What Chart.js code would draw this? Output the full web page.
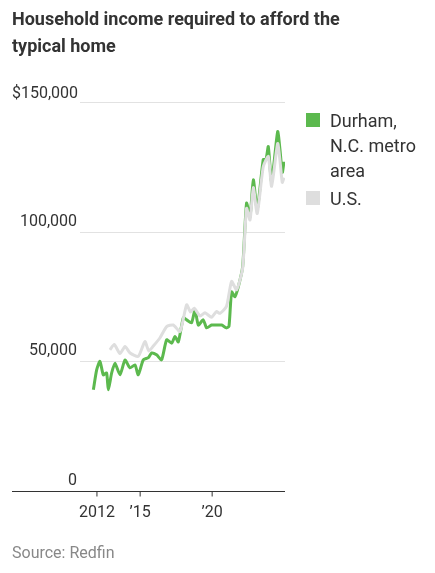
<!DOCTYPE html>
<html>
<head>
<meta charset="utf-8">
<script src="https://cdn.jsdelivr.net/npm/chart.js@4"></script>
<style>
  body { margin: 0; background: #fff; font-family: Roboto, "Noto Sans", sans-serif; }
  #wrap { position: relative; width: 435px; height: 573px; }
  h1 { position: absolute; left: 12px; top: 5px; margin: 0; font-size: 18px; line-height: 27px; font-weight: bold; color: #333; width: 420px; white-space: nowrap; }
  .leg { position: absolute; left: 306px; font-size: 18px; line-height: 25px; color: #333; }
  .sw { position: absolute; left: 0; top: 5px; width: 14px; height: 14px; }
  .leg span.t { display: block; margin-left: 24px; }
  #src { position: absolute; left: 12px; top: 543px; font-size: 16px; color: #888; }
</style>
</head>
<body>
<div id="wrap">
  <canvas id="myChart" width="435" height="573"></canvas>
  <h1>Household income required to afford the<br>typical home</h1>
  <div class="leg" style="top:108px"><div class="sw" style="background:#5cb94e"></div><span class="t">Durham,<br>N.C. metro<br>area</span></div>
  <div class="leg" style="top:186px"><div class="sw" style="background:#dedede"></div><span class="t">U.S.</span></div>
  <div id="src">Source: Redfin</div>
</div>
<script>
const durhamYears = [2011.75, 2011.98, 2012.21, 2012.44, 2012.67, 2012.79, 2013.02, 2013.25, 2013.6, 2013.95, 2014.29, 2014.64, 2014.87, 2015.22, 2015.57, 2015.8, 2016.14, 2016.49, 2016.84, 2017.19, 2017.42, 2017.65, 2018.0, 2018.23, 2018.57, 2018.81, 2019.04, 2019.38, 2019.62, 2019.96, 2020.31, 2020.66, 2021.0, 2021.17, 2021.35, 2021.58, 2021.82, 2022.12, 2022.39, 2022.63, 2022.86, 2023.13, 2023.55, 2023.74, 2023.9, 2024.13, 2024.55, 2024.71, 2024.87, 2024.99];
const durham = [39000, 46700, 50000, 44800, 45500, 39000, 45500, 49300, 44800, 50500, 47500, 48600, 44800, 50600, 51400, 53200, 52500, 50600, 58300, 57000, 59600, 57500, 66800, 66000, 64900, 69900, 64000, 66000, 62900, 64000, 64000, 64000, 62900, 63500, 76800, 74900, 78800, 86500, 111000, 105800, 120000, 108500, 127800, 127800, 132800, 119300, 138600, 131700, 122800, 127000];
const usYears = [2012.9, 2013.2, 2013.6, 2013.95, 2014.3, 2014.87, 2015.33, 2015.6, 2015.9, 2016.37, 2016.84, 2017.3, 2017.77, 2018.23, 2018.5, 2018.75, 2019.16, 2019.5, 2019.96, 2020.3, 2020.54, 2021.0, 2021.35, 2021.7, 2022.12, 2022.39, 2022.63, 2022.86, 2023.13, 2023.55, 2023.9, 2024.13, 2024.55, 2024.71, 2024.87, 2024.99];
const us = [54400, 56500, 53000, 55700, 53200, 51900, 57600, 54000, 55800, 59000, 63400, 64000, 61500, 71800, 69000, 70500, 67500, 68700, 67000, 69200, 68500, 71200, 80800, 77600, 86000, 109000, 104500, 117000, 107000, 125000, 129000, 117500, 134000, 127500, 119000, 120800];
const yTicks = [0, 50000, 100000, 150000];
const yTickLabels = ['0', '50,000', '100,000', '$150,000'];
const xTicks = [2012, 2015, 2020];
const xTickLabels = ['2012', '\u201915', '\u201920'];

const pts = (xs, ys) => xs.map((x, i) => ({x: x, y: ys[i]}));

const axesPlugin = {
  id: 'axesPlugin',
  beforeDatasetsDraw(chart) {
    const {ctx, chartArea, scales: {x, y}} = chart;
    ctx.save();
    ctx.font = '16px Roboto, sans-serif';
    ctx.fillStyle = '#333';
    ctx.textBaseline = 'bottom';
    yTicks.forEach((v, i) => {
      const py = Math.round(y.getPixelForValue(v)) + 0.5;
      if (v > 0) {
        ctx.strokeStyle = '#e2e2e2';
        ctx.lineWidth = 1;
        ctx.beginPath();
        ctx.moveTo(80, py);
        ctx.lineTo(chartArea.right, py);
        ctx.stroke();
      }
      if (v === 150000) { ctx.textAlign = 'left'; ctx.fillText(yTickLabels[i], 12, py - 1); }
      else { ctx.textAlign = 'right'; ctx.fillText(yTickLabels[i], 77, py - 3); }
    });
    const by = Math.round(y.getPixelForValue(0)) + 0.5;
    ctx.strokeStyle = '#333';
    ctx.beginPath();
    ctx.moveTo(chartArea.left, by);
    ctx.lineTo(chartArea.right, by);
    ctx.stroke();
    ctx.textAlign = 'center';
    ctx.textBaseline = 'top';
    xTicks.forEach((v, i) => {
      const px = x.getPixelForValue(v);
      ctx.beginPath();
      ctx.moveTo(px, by);
      ctx.lineTo(px, by + 5);
      ctx.stroke();
      ctx.fillText(xTickLabels[i], px, by + 13);
    });
    ctx.restore();
  }
};

new Chart(document.getElementById('myChart'), {
  type: 'line',
  data: {
    datasets: [
      {label: 'U.S.', data: pts(usYears, us), borderColor: '#dedede', borderWidth: 3, pointRadius: 0, tension: 0.2},
      {label: 'Durham, N.C. metro area', data: pts(durhamYears, durham), borderColor: '#5cb94e', borderWidth: 3, pointRadius: 0, tension: 0.2}
    ]
  },
  options: {
    responsive: false,
    animation: false,
    layout: {padding: {left: 12, right: 150, top: 102, bottom: 82}},
    plugins: {legend: {display: false}, tooltip: {enabled: false}},
    scales: {
      x: {type: 'linear', display: false, min: 2006.1, max: 2025.06},
      y: {display: false, min: 0, max: 150000}
    }
  },
  plugins: [axesPlugin]
});
</script>
</body>
</html>
